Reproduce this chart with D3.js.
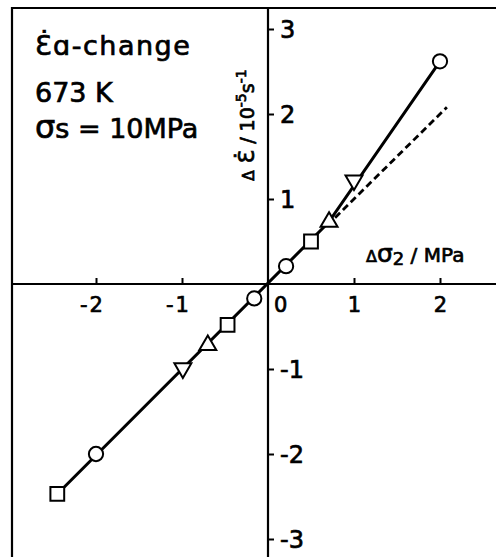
<!DOCTYPE html>
<html><head><meta charset="utf-8">
<script src="https://cdn.jsdelivr.net/npm/d3@7"></script>
<style>
html,body{margin:0;padding:0;background:#fff;}
svg{display:block;}
text{font-family:"DejaVu Sans",sans-serif;fill:#000;stroke:#000;stroke-width:0.7px;}
</style></head>
<body>
<script>
// ---- data ----
const circleX = [-2.0, -0.16, 0.21, 2.0];
const circleY = [-2.0, -0.17, 0.21, 2.62];
const squareX = [-2.45, -0.47, 0.5];
const squareY = [-2.47, -0.48, 0.5];
const triUpX = [-0.7, 0.71];
const triUpY = [-0.72, 0.73];
const triDownX = [-0.99, 1.0];
const triDownY = [-0.99, 1.22];
const solidX = [-2.45, 0.7, 2.0];
const solidY = [-2.47, 0.72, 2.62];
const dashX = [0.78, 2.08];
const dashY = [0.78, 2.08];
const xTicks = [-2, -1, 1, 2];
const yTicks = [-3, -2, -1, 1, 2, 3];
const xTickLabels = ["-2", "-1", "1", "2"];
const yTickLabels = ["-3", "-2", "-1", "1", "2", "3"];

const W = 496, H = 557;
const svg = d3.select("body").append("svg").attr("width", W).attr("height", H);
svg.append("rect").attr("width", W).attr("height", H).attr("fill", "#fff");

const x = d3.scaleLinear().domain([-2, 2]).range([96, 440]);
const y = d3.scaleLinear().domain([-3, 3]).range([539, 29]);

const boxL = 12, boxT = 8;
// frame (left + top)
svg.append("path").attr("d", `M${boxL},${H} V${boxT} H${W}`)
  .attr("fill", "none").attr("stroke", "#000").attr("stroke-width", 2.2);

// axes through origin
const xAxis = d3.axisBottom(x).tickValues(xTicks).tickSize(-6).tickFormat("");
svg.append("g").attr("transform", `translate(0,${y(0)})`).call(xAxis)
  .call(g => g.select(".domain").remove())
  .call(g => g.selectAll(".tick line").attr("stroke-width", 2));
svg.append("line").attr("x1", boxL).attr("x2", W).attr("y1", y(0)).attr("y2", y(0))
  .attr("stroke", "#000").attr("stroke-width", 2.2);

const yAxis = d3.axisRight(y).tickValues(yTicks).tickSize(6).tickFormat("");
svg.append("g").attr("transform", `translate(${x(0)},0)`).call(yAxis)
  .call(g => g.select(".domain").remove())
  .call(g => g.selectAll(".tick line").attr("stroke-width", 2));
svg.append("line").attr("x1", x(0)).attr("x2", x(0)).attr("y1", boxT).attr("y2", H)
  .attr("stroke", "#000").attr("stroke-width", 2.2);

// tick labels
svg.selectAll(".xl").data(xTicks).enter().append("text")
  .attr("x", d => x(d) + 9).attr("y", y(0) + 28)
  .attr("text-anchor", "end").attr("font-size", 21).attr("letter-spacing", 2)
  .text((d, i) => xTickLabels[i]);
svg.append("text").attr("x", x(0) + 6).attr("y", y(0) + 28).attr("font-size", 21).text("0");
svg.selectAll(".yl").data(yTicks).enter().append("text")
  .attr("x", x(0) + 12).attr("y", d => y(d) + 9)
  .attr("font-size", 24)
  .text((d, i) => yTickLabels[i]);

// lines
const line = d3.line().x(d => x(d[0])).y(d => y(d[1]));
svg.append("path").datum(solidX.map((v, i) => [v, solidY[i]])).attr("d", line)
  .attr("fill", "none").attr("stroke", "#000").attr("stroke-width", 3);
svg.append("path").datum(dashX.map((v, i) => [v, dashY[i]])).attr("d", line)
  .attr("fill", "none").attr("stroke", "#000").attr("stroke-width", 2.8)
  .attr("stroke-dasharray", "7,4");

// markers
function markers(xs, ys, type, size, rot) {
  svg.selectAll(null).data(xs.map((v, i) => [v, ys[i]])).enter().append("path")
    .attr("d", d3.symbol().type(type).size(size)())
    .attr("transform", d => `translate(${x(d[0])},${y(d[1])}) rotate(${rot})`)
    .attr("fill", "#fff").attr("stroke", "#000").attr("stroke-width", 2);
}
markers(circleX, circleY, d3.symbolCircle, 160, 0);
markers(squareX, squareY, d3.symbolSquare, 190, 0);
markers(triUpX, triUpY, d3.symbolTriangle, 125, 0);
markers(triDownX, triDownY, d3.symbolTriangle, 125, 180);

// annotation text
const t1 = svg.append("text").attr("x", 35).attr("y", 55).attr("font-size", 27).attr("letter-spacing", 1.5);
t1.append("tspan").text("Ɛ̇ɑ-change");
svg.append("text").attr("x", 35).attr("y", 102).attr("font-size", 27).text("673 K");
const t3 = svg.append("text").attr("x", 35).attr("y", 138).attr("font-size", 27);
t3.append("tspan").attr("font-size", 32).text("σ");
t3.append("tspan").text("s = 10MPa");

// x-axis label
const xl = svg.append("text").attr("x", 366).attr("y", 262).attr("font-size", 20);
xl.append("tspan").attr("font-size", 16).text("Δ");
xl.append("tspan").attr("font-size", 25).text("σ");
xl.append("tspan").attr("font-size", 18).attr("dy", 3).text("2");
xl.append("tspan").attr("dy", -3).text(" / MPa");

// y-axis label
const yl = svg.append("text").attr("transform", "translate(254,125) rotate(-90)")
  .attr("text-anchor", "middle").attr("font-size", 19);
yl.append("tspan").attr("font-size", 15).text("Δ");
yl.append("tspan").attr("font-size", 22).text(" Ɛ̇");
yl.append("tspan").text(" / 10");
yl.append("tspan").attr("font-size", 14).attr("dy", -8).text("-5");
yl.append("tspan").attr("dy", 8).text("s");
yl.append("tspan").attr("font-size", 14).attr("dy", -8).text("-1");
</script>
</body></html>
